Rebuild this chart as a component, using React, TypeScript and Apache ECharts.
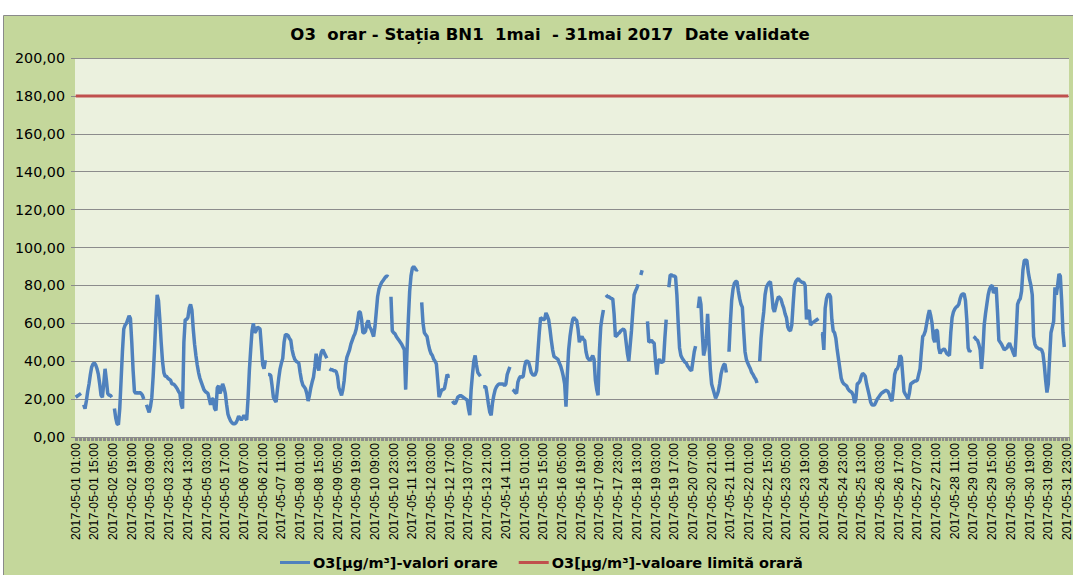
import React, { useEffect, useRef } from "react";
import * as echarts from "echarts";

const TITLE = "O3  orar - Stația BN1  1mai  - 31mai 2017  Date validate";
const SERIES_NAME = "O3[µg/m³]-valori orare";
const LIMIT_NAME = "O3[µg/m³]-valoare limită orară";
const LIMIT_VALUE = 180;
const Y_TICKS = [0, 20, 40, 60, 80, 100, 120, 140, 160, 180, 200];

type V = number | null;
const day01: V[] = [21, 21.5, 22, 22.5, 23, null, 17, 15, 19, 24, 28, 33, 37, 38.5, 39, 38, 36, 33, 28, 22, 21, 28, 36, 30];
const day02: V[] = [23, 22, 22, 21, null, 15, 10, 7, 6.5, 15, 30, 45, 57, 59, 60, 62, 64, 62.5, 50, 35, 24, 23, 23.5, 23];
const day03: V[] = [23.5, 23, 22, 20, null, 17, 15, 13, 16, 21, 32, 46, 62, 75, 72, 62, 50, 40, 34, 32, 32, 31, 30.5, 30];
const day04: V[] = [28, 28, 27.5, 26.5, 25.5, 24, 23, 17, 15, 50, 62, 62, 63, 68, 70, 67, 57, 49, 43, 38, 34, 31, 29, 27];
const day05: V[] = [25, 24, 23.5, 23, 20, 17, 20, 20, 15, 14, 26, 27, 23, 25, 28, 26, 23, 17, 12, 10, 8.5, 7.5, 7, 7];
const day06: V[] = [7.5, 9, 11, 10, 9, 10, 11.5, 10, 9, 20, 35, 46, 56, 60, 55, 56, 58, 57.5, 57, 48, 38, 36, 40.5, null];
const day07: V[] = [33, 33, 32.5, 27, 21, 19.5, 18.5, 25, 31, 36, 39, 41.5, 50, 54, 54, 53.5, 52, 51, 46, 43, 41, 40, 39.5, 39];
const day08: V[] = [34, 30, 27.5, 26.5, 25.5, 23, 19, 22, 26, 29, 31.5, 37, 44, 38, 35, 42, 45, 46, 44.5, 43, 41.5, null, 36, 35.5];
const day09: V[] = [35.5, 35, 35, 34.5, 32, 26, 24, 22, 25, 30, 38, 42, 44, 46, 49, 51, 53, 54.5, 57, 61, 66, 66, 62, 55];
const day10: V[] = [55, 56, 60, 61.5, 58, 57, 55, 53, 58, 66, 74, 78, 80, 81.5, 82.5, 83.5, 84.5, 85, 84.5, null, 74, 56, 55, 54.5];
const day11: V[] = [53, 52, 51, 50, 49, 47.5, 46, 25, 45, 62, 77, 85, 89, 90, 89, 88, 88.5, null, null, 71, 60, 55, 54, 53];
const day12: V[] = [49, 46, 44, 43, 41, 40, 38.5, 30, 21, 23, 25, 25, 25.5, 29, 33, 32, 32, null, 19, 18, 17.5, 19, 21, 21.5];
const day13: V[] = [22, 21.5, 21, 20.5, 20, 19.5, 15, 11.5, 25, 33, 40, 43, 38, 34, 33, 32, null, 26.5, 26.5, 26.5, 22, 17, 13, 11.5];
const day14: V[] = [18, 22, 25, 26.5, 27.5, 28, 28, 28, 28, 27, 28, 33, 35, 37, null, 25, 24.5, 23.5, 23, 29, 31, 32, 31.5, 32];
const day15: V[] = [37, 40, 40, 39.5, 37, 34, 33, 32.5, 33, 35, 45, 55, 63, 62.5, 62, 62, 65.5, 64, 62, 57, 51, 46, 42.5, 42];
const day16: V[] = [41.5, 41, 39, 37.5, 35, 32, 28, 16, 33, 46, 53, 58, 62, 63, 62, 61.5, 57, 50, 52, 53, 51.5, 51, 45, 42];
const day17: V[] = [41, 40.5, 41.5, 43, 41, 30, 25, 22, 45, 58, 63, 67, null, 75, 74, 74, 73.5, 73, 73, 65, 53, 53.5, 54.5, 55];
const day18: V[] = [56, 56.5, 57, 56, 50, 44, 40, 48, 56, 66, 75, 77, 78.5, 80.5, null, 85.5, 88, null, null, null, 61, 50, 50.5, 51];
const day19: V[] = [50, 49.5, 40, 33, 40, 41, 39.5, 39.5, 40, 52, 62, null, 79, 85.5, 85.5, 85, 85, 84.5, 75, 60, 47, 43, 41.5, 40.5];
const day20: V[] = [39.5, 39, 37.5, 36.5, 35.5, 35, 40, 45, 48, null, 68, 74, 70, 55, 43, 46, 52, 65, 50, 36, 28, 25.5, 23, 20.5];
const day21: V[] = [22, 24, 28, 33, 36, 38, 38.5, 34, null, 45, 60, 72, 78, 81, 82, 82, 77, 73, 70, 68.5, 56, 45, 41, 39];
const day22: V[] = [37.5, 36, 34, 33, 31.5, 30.5, 28.5, null, 40, 52, 60, 66, 75, 79, 80.5, 81.5, 82, 76, 68, 66, 69, 72, 74, 73.5];
const day23: V[] = [72.5, 70, 68, 65, 63, 58, 56.5, 56, 59, 70, 80, 82, 83, 83.5, 82.5, 82, 81.5, 81.5, 80, 62, 66, 67, 59, 60];
const day24: V[] = [60.5, 61, 61.5, 62, 62.5, null, 54.5, 54.5, 46, 68, 73, 75, 75.5, 74, 62, 56, 55, 52, 46, 41, 36, 31, 29, 28];
const day25: V[] = [27.5, 27, 25.5, 24.5, 24, 23.5, 22, 18, 20, 28, 28.5, 29.5, 32, 33.5, 33, 32, 28, 25, 22, 18.5, 17, 16.8, 17, 18.5];
const day26: V[] = [20, 21, 22, 23, 23.5, 24, 24.5, 24.5, 24, 22.5, 20, 19, 25, 33, 35.5, 36, 38, 43, 42, 33, 24, 22.5, 21.5, 20];
const day27: V[] = [23, 28, 28.5, 29, 29.5, 29.5, 30, 33, 36, 45, 53, 54, 56, 60, 64, 67, 64, 60, 52, 50, 56.5, 56, 47, 44];
const day28: V[] = [45.5, 46, 46.5, 45.5, 44, 43.5, 43, 55, 63, 66, 67.5, 68.5, 69, 70, 73, 75, 75.5, 75.5, 72, 62, 47, 45, 46, null];
const day29: V[] = [53, 52.5, 51.5, 51, 49, 46, 36, 45, 59, 65, 70, 75, 78, 79.5, 80, 76, 77, 79, 66, 51, 50, 49, 47.5, 46];
const day30: V[] = [46.5, 47, 48.5, 49.5, 47.5, 46, 44, 42.5, 55, 70, 72, 73, 77, 88, 93, 93.5, 93, 87, 83, 80, 75, 53, 49, 47.5];
const day31: V[] = [47, 46.5, 46.5, 46, 44, 38, 30, 23.5, 28, 42, 55, 58, 61, 79, 75, 80, 86, 85, 72, 55, 47.5, null, null, null];

const o3Values: V[] = [
  ...day01, ...day02, ...day03, ...day04, ...day05, ...day06, ...day07, ...day08,
  ...day09, ...day10, ...day11, ...day12, ...day13, ...day14, ...day15, ...day16,
  ...day17, ...day18, ...day19, ...day20, ...day21, ...day22, ...day23, ...day24,
  ...day25, ...day26, ...day27, ...day28, ...day29, ...day30, ...day31,
];

const pad = (n: number) => (n < 10 ? "0" + n : "" + n);
const categories: string[] = [];
for (let d = 1; d <= 31; d++) {
  for (let h = 1; h <= 24; h++) {
    categories.push(h === 24 ? `2017-${d === 31 ? "06" : "05"}-${pad(d === 31 ? 1 : d + 1)} 00:00` : `2017-05-${pad(d)} ${pad(h)}:00`);
  }
}
const limitValues = categories.map(() => LIMIT_VALUE);

const FONT = "Liberation Sans, Arial, sans-serif";
const WIDE = "DejaVu Sans, Verdana, sans-serif";

export default function App() {
  const ref = useRef<HTMLDivElement>(null);
  useEffect(() => {
    if (!ref.current) return;
    const chart = echarts.init(ref.current, undefined, { renderer: "svg" });
    chart.setOption({
      animation: false,
      backgroundColor: "#ffffff",
      textStyle: { fontFamily: FONT },
      graphic: [
        {
          type: "rect",
          z: -10,
          silent: true,
          shape: { x: 3.5, y: 15.5, width: 1075, height: 570 },
          style: { fill: "#C4D79B", stroke: "#8a8a8a", lineWidth: 1 },
        },
      ],
      title: {
        text: TITLE,
        left: 545,
        textAlign: "center",
        top: 21,
        textStyle: { fontFamily: WIDE, fontSize: 16.5, fontWeight: "bold", color: "#000" },
      },
      legend: {
        bottom: 0,
        left: 275,
        itemWidth: 30,
        itemHeight: 3,
        itemGap: 21,
        icon: "rect",
        textStyle: { fontFamily: WIDE, fontSize: 14.5, fontWeight: "bold", color: "#000", padding: [0, 0, 0, -2] },
        data: [SERIES_NAME, LIMIT_NAME],
      },
      grid: {
        left: 75,
        right: 3,
        top: 58,
        bottom: 138,
        containLabel: false,
        show: true,
        backgroundColor: "#EBF1DE",
        borderWidth: 0,
      },
      xAxis: {
        type: "category",
        data: categories,
        boundaryGap: true,
        axisLine: { show: true, lineStyle: { color: "#8a8a8a", width: 1 } },
        axisTick: { show: true, interval: 0, length: 4, lineStyle: { color: "#8a8a8a" } },
        axisLabel: {
          interval: 13,
          rotate: 90,
          fontSize: 12.3,
          color: "#000",
          margin: 6,
          fontFamily: FONT,
        },
        splitLine: { show: false },
      },
      yAxis: {
        type: "value",
        min: Y_TICKS[0],
        max: Y_TICKS[Y_TICKS.length - 1],
        interval: 20,
        axisLine: { show: false },
        axisTick: { show: true, length: 4, lineStyle: { color: "#8a8a8a" } },
        axisLabel: {
          fontSize: 14.3,
          color: "#000",
          margin: 10,
          fontFamily: WIDE,
          formatter: (v: number) => v.toFixed(2).replace(".", ","),
        },
        splitLine: { show: true, lineStyle: { color: "#8c8c8c", width: 1 } },
      },
      series: [
        {
          name: SERIES_NAME,
          type: "line",
          data: o3Values,
          showSymbol: false,
          symbol: "none",
          connectNulls: false,
          lineStyle: { color: "#4F81BD", width: 3.5 },
          itemStyle: { color: "#4F81BD" },
          z: 3,
        },
        {
          name: LIMIT_NAME,
          type: "line",
          data: limitValues,
          showSymbol: false,
          symbol: "none",
          lineStyle: { color: "#C0504D", width: 3 },
          itemStyle: { color: "#C0504D" },
          z: 2,
        },
      ],
    });
    return () => chart.dispose();
  }, []);
  return <div ref={ref} style={{ position: "fixed", left: 0, top: 0, width: 1073, height: 575 }} />;
}
